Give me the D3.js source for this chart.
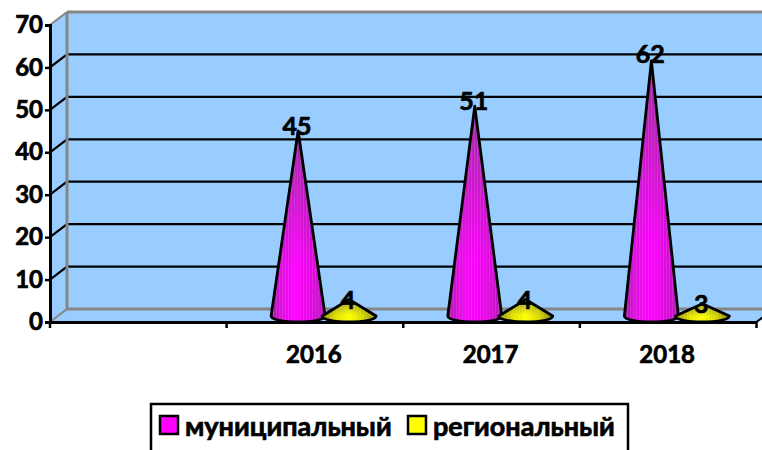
<!DOCTYPE html>
<html>
<head>
<meta charset="utf-8">
<script src="https://cdn.jsdelivr.net/npm/d3@7"></script>
<style>
  html, body { margin: 0; padding: 0; background: #fff; overflow: hidden; }
  text { font-family: "Lato", "Open Sans", sans-serif; font-weight: 700; fill: #000; stroke: #000; stroke-width: 0.7px; }
</style>
</head>
<body>
<svg width="762" height="450"></svg>
<script>
const categories = ['', '2016', '2017', '2018'];
const seriesNames = ['муниципальный', 'региональный'];
const municipal = [null, 45, 51, 62];
const regional = [null, 4, 4, 3];
const yTicks = [0, 10, 20, 30, 40, 50, 60, 70];

const svg = d3.select('svg');
const depthX = 17, depthY = -13;

const x = d3.scaleBand().domain(categories).range([50, 756.5]);
const y = d3.scaleLinear().domain([0, 70]).range([322, 25]);
const series = d3.scalePoint().domain(seriesNames).range([71.5, 122.5]);
const color = d3.scaleOrdinal().domain(seriesNames).range(['#ff00ff', '#ffff00']);

const defs = svg.append('defs');

function coneGradient(id, stops) {
    defs.append('linearGradient').attr('id', id)
        .selectAll('stop').data(stops).enter().append('stop')
        .attr('offset', d => d[0])
        .attr('stop-color', d => d[1]);
}
coneGradient('cone-м', [[0, '#a81aa8'], [0.2, '#e010e0'], [0.45, '#ff00ff'], [0.7, '#e808e8'], [1, '#b818b8']]);
coneGradient('cone-р', [[0, '#8c8c10'], [0.25, '#e0e000'], [0.5, '#ffff00'], [0.75, '#d8d800'], [1, '#84841a']]);

// cones get darker towards the apex
const shade = defs.append('linearGradient').attr('id', 'shade').attr('x2', 0).attr('y2', 1);
shade.append('stop').attr('offset', 0).attr('stop-color', '#555').attr('stop-opacity', 0.55);
shade.append('stop').attr('offset', 0.7).attr('stop-color', '#555').attr('stop-opacity', 0);

// thin vertical stripes on the cones
const stripes = defs.append('pattern').attr('id', 'stripes')
    .attr('patternUnits', 'userSpaceOnUse').attr('width', 3).attr('height', 4);
stripes.append('rect').attr('width', 1).attr('height', 4).attr('fill', '#fff').attr('opacity', 0.1);

const walls = svg.append('g');
const x0 = x.range()[0], x1 = x.range()[1];

// side wall, floor, back wall
walls.append('path')
    .attr('d', `M${x0},${y(0)}L${x0},${y(70)}L${x0 + depthX},${y(70) + depthY}L${x0 + depthX},${y(0) + depthY}Z`)
    .attr('fill', '#99ccff');
walls.append('path')
    .attr('d', `M${x0},${y(0)}L${x1},${y(0)}L${x1 + depthX},${y(0) + depthY}L${x0 + depthX},${y(0) + depthY}Z`)
    .attr('fill', '#99ccff');
walls.append('rect')
    .attr('x', x0 + depthX).attr('y', y(70) + depthY)
    .attr('width', x1 - x0).attr('height', y(0) - y(70))
    .attr('fill', '#99ccff');

// grid lines on the back wall and the side wall
const grid = walls.selectAll('g.grid').data(yTicks).enter().append('g').attr('class', 'grid');
grid.append('line')
    .attr('x1', x0 + depthX).attr('x2', x1 + depthX)
    .attr('y1', d => y(d) + depthY).attr('y2', d => y(d) + depthY)
    .attr('stroke', d => d === 0 || d === 70 ? '#868686' : '#000')
    .attr('stroke-width', d => d === 0 || d === 70 ? 3 : 2.2);
grid.append('line')
    .attr('x1', x0).attr('x2', x0 + depthX)
    .attr('y1', d => y(d)).attr('y2', d => y(d) + depthY)
    .attr('stroke', d => d === 0 || d === 70 ? '#868686' : '#000')
    .attr('stroke-width', 2.2);
walls.append('line')
    .attr('x1', x0 + depthX).attr('x2', x0 + depthX)
    .attr('y1', y(70) + depthY).attr('y2', y(0) + depthY)
    .attr('stroke', '#868686').attr('stroke-width', 3);
walls.append('line')
    .attr('x1', x1).attr('x2', x1 + depthX)
    .attr('y1', y(0)).attr('y2', y(0) + depthY)
    .attr('stroke', '#000').attr('stroke-width', 2.2);

// cones
const baseY = y(0) - 6;
const rx = 27, ry = 6;
const rows = [];
categories.forEach((c, i) => {
    if (municipal[i] !== null) rows.push({ cat: c, name: seriesNames[0], value: municipal[i], grad: 'cone-м' });
    if (regional[i] !== null) rows.push({ cat: c, name: seriesNames[1], value: regional[i], grad: 'cone-р' });
});

function conePath(d) {
    const cx = x(d.cat) + series(d.name);
    const top = baseY - (y(0) - y(d.value)) * 0.97;
    return `M${cx - rx},${baseY}L${cx},${top}L${cx + rx},${baseY}A${rx},${ry} 0 0 1 ${cx - rx},${baseY}Z`;
}

const cones = svg.append('g').selectAll('g').data(rows).enter().append('g');
cones.append('path').attr('d', conePath).attr('fill', d => `url(#${d.grad})`);
cones.append('path').attr('d', conePath).attr('fill', 'url(#shade)');
cones.append('path').attr('d', conePath).attr('fill', 'url(#stripes)')
    .attr('stroke', '#000').attr('stroke-width', 2.8).attr('stroke-linejoin', 'round');

// axes
const yAxis = d3.axisLeft(y).tickValues(yTicks).tickSize(5).tickPadding(2);
const yG = svg.append('g').attr('transform', `translate(${x0},0)`).call(yAxis);
yG.select('.domain').attr('stroke', '#000').attr('stroke-width', 3);
yG.selectAll('.tick line').attr('stroke', '#000').attr('stroke-width', 2.5);
yG.selectAll('text').style('font-size', '24px').attr('fill', '#000');

const xAxis = d3.axisBottom(x).tickValues([]).tickSizeOuter(0);
const xG = svg.append('g').attr('transform', `translate(0,${y(0)})`).call(xAxis);
xG.select('.domain').attr('stroke', '#000').attr('stroke-width', 3);
xG.selectAll('line.edge').data(categories.concat('end')).enter().append('line').attr('class', 'edge')
    .attr('x1', d => d === 'end' ? x1 : x(d)).attr('x2', d => d === 'end' ? x1 : x(d))
    .attr('y1', 0).attr('y2', 6)
    .attr('stroke', '#000').attr('stroke-width', 2.5);
xG.selectAll('text.cat').data(categories).enter().append('text').attr('class', 'cat')
    .attr('x', d => x(d) + x.bandwidth() / 2 - 1)
    .attr('y', 41)
    .attr('text-anchor', 'middle')
    .style('font-size', '24px')
    .text(d => d);

// data labels
svg.append('g').selectAll('text').data(rows).enter().append('text')
    .attr('x', d => x(d.cat) + series(d.name) - 1)
    .attr('y', d => y(d.value) + 4)
    .attr('text-anchor', 'middle')
    .style('font-size', '25px')
    .text(d => d.value);

// legend
const legend = svg.append('g');
legend.append('rect').attr('x', 151).attr('y', 404).attr('width', 477).attr('height', 60)
    .attr('fill', '#fff').attr('stroke', '#000').attr('stroke-width', 2.5);
const legendPos = d3.scaleOrdinal().domain(seriesNames).range([160, 408]);
const item = legend.selectAll('g').data(seriesNames).enter().append('g')
    .attr('transform', d => `translate(${legendPos(d)},416)`);
item.append('rect').attr('width', 18).attr('height', 18)
    .attr('fill', d => color(d)).attr('stroke', '#000').attr('stroke-width', 2.5);
item.append('text').attr('x', 25).attr('y', 20).style('font-size', '27px').text(d => d);
</script>
</body>
</html>
